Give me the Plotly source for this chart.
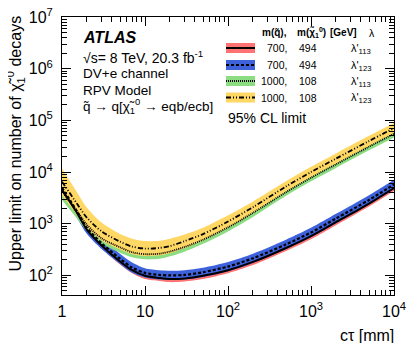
import plotly.graph_objects as go

# ---------------- data ----------------
ctau = [1, 1.5, 2, 3, 5, 7, 10, 15, 20, 30, 50, 100, 200, 500, 1000, 2000, 5000, 10000]

red_line = [4570, 1660, 760, 380, 186, 126, 98, 89, 85, 87, 98, 126, 182, 339, 575, 1070, 2450, 4900]
red_hi = [5500, 1950, 871, 437, 214, 145, 112, 102, 98, 100, 112, 145, 209, 389, 660, 1230, 2820, 5620]
red_lo = [3800, 1410, 661, 331, 162, 110, 85, 78, 74, 76, 85, 110, 158, 295, 500, 933, 2140, 4270]

blue_line = [5000, 1780, 830, 420, 210, 141, 112, 102, 100, 102, 115, 148, 214, 398, 676, 1260, 2880, 5750]
blue_hi = [6920, 2400, 1100, 537, 263, 178, 138, 126, 123, 126, 141, 182, 263, 490, 832, 1550, 3550, 7080]
blue_lo = [3630, 1320, 631, 324, 166, 112, 91, 83, 81, 83, 93, 120, 174, 324, 550, 1020, 2340, 4680]

green_line = [4200, 1780, 950, 520, 350, 280, 257, 263, 290, 355, 490, 850, 1620, 4070, 7760, 14100, 30900, 55000]
green_hi = [6030, 2450, 1260, 676, 437, 355, 324, 331, 355, 437, 589, 1020, 1950, 4790, 9120, 16600, 36300, 64600]
green_lo = [2880, 1290, 724, 407, 275, 224, 204, 209, 234, 288, 407, 710, 1350, 3460, 6610, 12000, 26300, 46800]

yellow_line = [6500, 2500, 1300, 710, 450, 360, 330, 340, 370, 460, 630, 1100, 2090, 5250, 10000, 18200, 39800, 70800]
yellow_hi = [11700, 4170, 2040, 1050, 630, 513, 462, 468, 513, 617, 832, 1450, 2690, 6610, 12600, 22900, 50100, 89100]
yellow_lo = [3550, 1510, 851, 479, 316, 257, 237, 245, 269, 339, 479, 832, 1620, 4170, 7940, 14500, 31600, 56200]

series_masses = [("700,", "494"), ("700,", "494"), ("1000,", "108"), ("1000,", "108")]
series_coupling = ["λ'<sub>113</sub>", "λ'<sub>123</sub>", "λ'<sub>113</sub>", "λ'<sub>123</sub>"]

x_tickvals = [1, 10, 100, 1000, 10000]
x_ticktext = ["1", "10", "10<sup>2</sup>", "10<sup>3</sup>", "10<sup>4</sup>"]
y_tickvals = [1e2, 1e3, 1e4, 1e5, 1e6, 1e7]
y_ticktext = ["10<sup>2</sup>", "10<sup>3</sup>", "10<sup>4</sup>", "10<sup>5</sup>",
              "10<sup>6</sup>", "10<sup>7</sup>"]

# ---------------- styles ----------------
FONT = "Liberation Sans, Arial, Helvetica, sans-serif"
band_colors = ["rgb(255,115,115)", "rgb(62,98,220)", "rgb(140,220,130)", "rgb(255,215,100)"]
line_dashes = ["solid", "3px,2px", "1px,1px", "5px,2px,1px,2px,1px,2px"]
line_widths = [2, 2.2, 1.8, 1.8]

bands = [(red_lo, red_hi), (blue_lo, blue_hi), (green_lo, green_hi), (yellow_lo, yellow_hi)]
lines = [red_line, blue_line, green_line, yellow_line]

fig = go.Figure()

for (lo, hi), col in zip(bands, band_colors):
    fig.add_trace(go.Scatter(x=ctau, y=lo, mode="lines",
                             line=dict(width=0, shape="spline", smoothing=0.8, color=col),
                             showlegend=False, hoverinfo="skip"))
    fig.add_trace(go.Scatter(x=ctau, y=hi, mode="lines",
                             line=dict(width=0, shape="spline", smoothing=0.8, color=col),
                             fill="tonexty", fillcolor=col, showlegend=False, hoverinfo="skip"))

for ys, dash, w in zip(lines, line_dashes, line_widths):
    fig.add_trace(go.Scatter(x=ctau, y=ys, mode="lines",
                             line=dict(color="black", width=w, dash=dash, shape="spline", smoothing=0.8),
                             showlegend=False))

# page geometry (pixels in the 415x351 window); the HTML body adds an 8px margin
PAGE_OFF = 8
W, H = 415 - 2 * PAGE_OFF, 351 - 2 * PAGE_OFF
L, R, T, B = 62, 394, 17, 295  # plot area in page pixels


def px(xp):
    return (xp - L) / (R - L)


def py(yp):
    return (B - yp) / (B - T)


x_minor = [m * 10 ** k for k in range(0, 4) for m in range(2, 10)]
y_minor = [m * 10 ** k for k in range(1, 7) for m in range(2, 10)]

fig.update_xaxes(type="log", range=[0, 4], showgrid=False, zeroline=False,
                 showline=True, linecolor="black", linewidth=1, mirror="ticks",
                 ticks="inside", ticklen=9, tickcolor="black", tickwidth=1,
                 tickvals=x_tickvals, ticktext=x_ticktext, ticklabelstandoff=2,
                 ticklabeloverflow="allow",
                 tickfont=dict(family=FONT, size=16, color="black"),
                 minor=dict(ticks="inside", ticklen=5, tickcolor="black", tickwidth=1,
                            tickmode="array", tickvals=x_minor, showgrid=False))
fig.update_yaxes(type="log", range=[1.62, 7], showgrid=False, zeroline=False,
                 showline=True, linecolor="black", linewidth=1, mirror="ticks",
                 ticks="inside", ticklen=9, tickcolor="black", tickwidth=1,
                 tickvals=y_tickvals, ticktext=y_ticktext, ticklabelstandoff=5,
                 ticklabeloverflow="allow",
                 tickfont=dict(family=FONT, size=16, color="black"),
                 minor=dict(ticks="inside", ticklen=5, tickcolor="black", tickwidth=1,
                            tickmode="array", tickvals=y_minor, showgrid=False))

ann = []


def text(x, y, s, size, anchor="left", bold=False, italic=False, angle=0, yanchor="middle"):
    if bold:
        s = "<b>" + s + "</b>"
    if italic:
        s = "<i>" + s + "</i>"
    ann.append(dict(x=px(x), y=py(y), xref="paper", yref="paper", text=s, showarrow=False,
                    xanchor=anchor, yanchor=yanchor, textangle=angle, borderpad=0,
                    font=dict(family=FONT, size=size, color="black")))


# axis titles
text(15.5, 15, "Upper limit on number of χ̃<sub>1</sub><sup>0</sup> decays", 16,
     anchor="center", angle=-90, yanchor="top")
text(395, 335, "cτ [mm]", 16, anchor="right")

# left labels
text(82, 37, "ATLAS", 16, bold=True, italic=True)
text(82, 57, "√s= 8 TeV, 20.3 fb<sup>-1</sup>", 14)
text(82, 73, "DV+e channel", 13.5)
text(82, 90, "RPV Model", 13.5)
text(82, 106, "q̃ → q[χ̃<sub>1</sub><sup>0</sup> → eqb/ecb]", 13.5)

# legend header
text(288, 33, "m(q̃),", 10, anchor="right", bold=True)
text(296, 33, "m(χ̃<sub>1</sub><sup>0</sup>)", 10, bold=True)
text(329, 33, "[GeV]", 10, bold=True)
text(368, 33, "λ", 10.5)

row_y = [48, 65, 81, 97.5]
shapes = []
for i, yy in enumerate(row_y):
    shapes.append(dict(type="rect", xref="paper", yref="paper",
                       x0=px(226), x1=px(255), y0=py(yy + 5), y1=py(yy - 5),
                       fillcolor=band_colors[i], line=dict(width=0)))
    shapes.append(dict(type="line", xref="paper", yref="paper",
                       x0=px(226), x1=px(255), y0=py(yy), y1=py(yy),
                       line=dict(color="black", width=line_widths[i], dash=line_dashes[i])))
    m1, m2 = series_masses[i]
    text(288, yy, m1, 10.5, anchor="right")
    text(318, yy, m2, 10.5, anchor="right")
    text(350, yy + 1, series_coupling[i], 11)

text(227, 118, "95% CL limit", 14)

fig.update_layout(width=W, height=H,
                  margin=dict(l=L - PAGE_OFF, r=(W + PAGE_OFF) - R, t=T - PAGE_OFF,
                              b=(H + PAGE_OFF) - B, autoexpand=False),
                  paper_bgcolor="white", plot_bgcolor="white",
                  annotations=ann, shapes=shapes, showlegend=False,
                  font=dict(family=FONT, color="black"))

fig.write_html("out.html")
